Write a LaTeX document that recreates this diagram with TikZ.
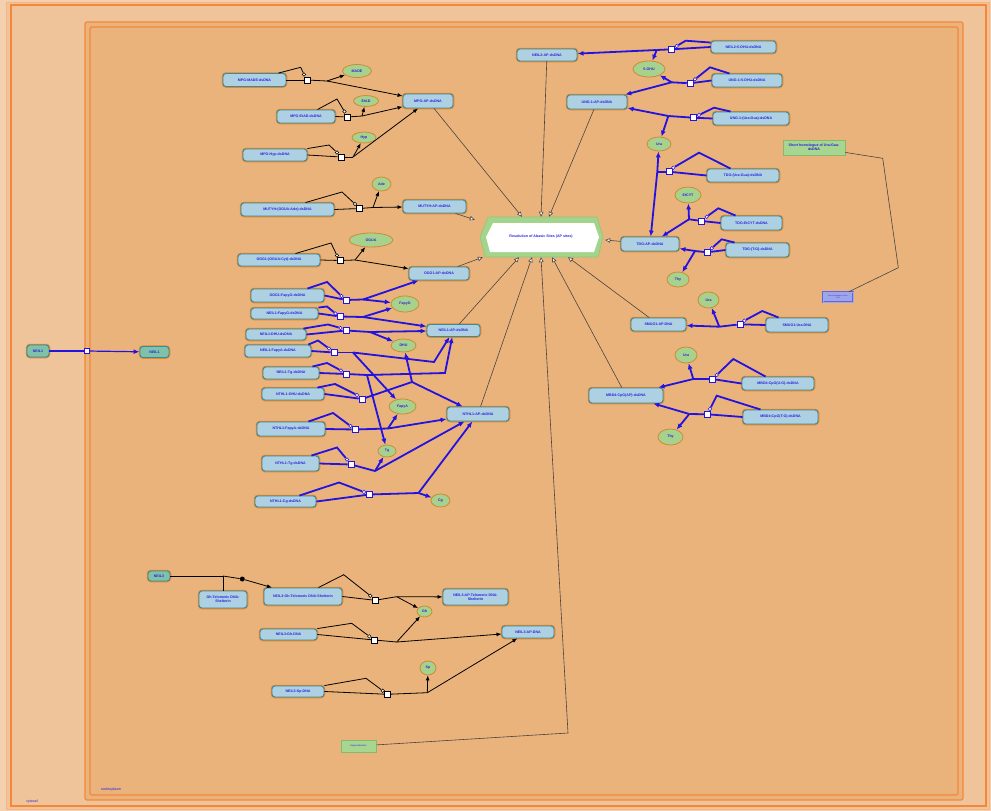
\documentclass[tikz,border=0pt]{standalone}
\usepackage{fontspec}
\setmainfont{Liberation Sans}
\usepackage{tikz}
\usetikzlibrary{arrows.meta,shapes.geometric}
\definecolor{outerbg}{HTML}{F3D0AE}
\definecolor{cyto}{HTML}{EFC49B}
\definecolor{nucl}{HTML}{EAB37C}
\definecolor{cytoedge}{HTML}{F5873A}
\definecolor{cytoedge2}{HTML}{F9B283}
\definecolor{cplxfill}{HTML}{ADD1E3}
\definecolor{cplxline}{HTML}{3B8B9C}
\definecolor{cplxglow}{HTML}{E0882E}
\definecolor{protfill}{HTML}{7FC2A9}
\definecolor{chemfill}{HTML}{A6D28D}
\definecolor{chemline}{HTML}{C98D35}
\definecolor{txtblue}{HTML}{2A1FE0}
\definecolor{rxblue}{HTML}{2412E0}
\definecolor{linkgray}{HTML}{4A4440}
\definecolor{hexgreen}{HTML}{A3D48C}
\definecolor{hexedge}{HTML}{93C47A}
\definecolor{pboxfill}{HTML}{A6D690}
\definecolor{pboxline}{HTML}{86B870}
\definecolor{sboxfill}{HTML}{9DA6EA}
\definecolor{sboxline}{HTML}{6464DC}
\pgfdeclarelayer{bg}
\pgfsetlayers{bg,main}

\begin{document}
\begin{tikzpicture}[x=1pt,y=-1pt,
  font=\fontsize{3.6}{4.2}\selectfont\bfseries,
  every node/.style={text=txtblue, align=center, inner sep=0pt},
  cplx/.style 2 args={draw=cplxline, line width=0.9pt, fill=cplxfill, rounded corners=3pt,
    minimum width=#1, minimum height=#2, preaction={draw=cplxglow, line width=2.5pt}},
  prot/.style 2 args={cplx={#1}{#2}, fill=protfill},
  chem/.style 2 args={ellipse, draw=chemline, line width=0.8pt, fill=chemfill,
    minimum width=#1, minimum height=#2},
  proc/.style={rectangle, draw=black, fill=white, line width=0.6pt, minimum size=6pt},
  bproc/.style={proc, draw=rxblue},
  catc/.style={circle, draw=black, fill=white, line width=0.5pt, minimum size=3.5pt},
  bcat/.style={catc, draw=rxblue},
  rx/.style={draw=black, line width=0.8pt},
  rxa/.style={rx, -{Latex[length=5pt,width=4pt]}},
  brx/.style={draw=rxblue, line width=1.8pt},
  brxa/.style={brx, -{Latex[length=6pt,width=5pt]}},
  link/.style={draw=linkgray, line width=0.6pt, -{Triangle[fill=white,length=5pt,width=4.5pt]}},
  plink/.style={draw=linkgray, line width=0.6pt},
  pbox/.style 2 args={draw=pboxline, fill=pboxfill, line width=0.8pt, minimum width=#1, minimum height=#2}
]
\useasboundingbox (0,0) rectangle (991,811);
\begin{pgfonlayer}{bg}
\fill[outerbg] (0,0) rectangle (991,811);
\draw[cytoedge2, fill=cyto, line width=1pt] (6,2) rectangle (989,809);
\draw[cytoedge, line width=1.2pt] (11,5) rectangle (986,806);
\draw[cytoedge, fill=nucl, line width=1.2pt, rounded corners=2pt] (85,22) rectangle (963,800);
\draw[cytoedge, line width=1.2pt, rounded corners=2pt] (90,27) rectangle (958,795);
\end{pgfonlayer}
\node[font=\fontsize{3.6}{4}\selectfont] (lcyto) at (32,802) {cytosol};
\node[font=\fontsize{3.6}{4}\selectfont] (lnucl) at (111,790) {nucleoplasm};

% resolution of AP sites
\filldraw[fill=hexgreen, draw=hexedge, line width=0.6pt] (488,217) -- (597,217) -- (603,237) -- (598,257) -- (485,257) -- (480,237) -- cycle;
\fill[white] (493,223) -- (594,223) -- (599,237) -- (594,252) -- (490,252) -- (486,237) -- cycle;
\node[minimum width=122, minimum height=40] (res) at (541,237) {Resolution of Abasic Sites (AP sites)};

% complexes
\node[cplx={63}{13}] (mpgMADE) at (254.5,80) {MPG:MADE-dsDNA};
\node[cplx={50}{14}] (mpgAP) at (428,101) {MPG:AP-dsDNA};
\node[cplx={58}{13}] (mpgEtAD) at (306,116.5) {MPG:EtAD-dsDNA};
\node[cplx={64}{12}] (mpgHyp) at (275,155) {MPG:Hyp-dsDNA};
\node[cplx={93}{13}] (mutyhOA) at (287.5,209.5) {MUTYH:(OGUA:Ade)-dsDNA};
\node[cplx={63}{13}] (mutyhAP) at (434.5,206.5) {MUTYH:AP-dsDNA};
\node[cplx={82}{12}] (oggOC) at (279,260) {OGG1:(OGUA:Cyt)-dsDNA};
\node[cplx={60}{13}] (oggAP) at (439,273.5) {OGG1:AP-dsDNA};
\node[cplx={73}{13}] (oggFG) at (287.5,295.5) {OGG1:FapyG-dsDNA};
\node[cplx={67}{11}] (neilFG) at (284.5,313.5) {NEIL1:FapyG-dsDNA};
\node[cplx={60}{11}] (neilDHU) at (276,334.5) {NEIL1:DHU-dsDNA};
\node[cplx={53}{12}] (neilAP) at (453.5,330.5) {NEIL1:AP-dsDNA};
\node[cplx={66}{12}] (neilFA) at (278,351) {NEIL1:FapyA-dsDNA};
\node[cplx={56}{12}] (neilTg) at (291,373) {NEIL1:Tg-dsDNA};
\node[cplx={62}{12}] (nthOHU) at (293,394) {NTHL1:OHU-dsDNA};
\node[cplx={62}{14}] (nthAP) at (478,414) {NTHL1:AP-dsDNA};
\node[cplx={68}{14}] (nthFA) at (291,429) {NTHL1:FapyA-dsDNA};
\node[cplx={57}{15}] (nthTg) at (290.5,463.5) {NTHL1:Tg-dsDNA};
\node[cplx={61}{11}] (nthCg) at (285.5,501.5) {NTHL1:Cg-dsDNA};
\node[cplx={60}{12}] (neil2AP) at (547,55) {NEIL2:AP-dsDNA};
\node[cplx={65}{12}] (neil2OHU) at (743.5,47) {NEIL2:5-OHU-dsDNA};
\node[cplx={70}{13}] (ungOHU) at (747,80.5) {UNG-1:5-OHU-dsDNA};
\node[cplx={60}{14}] (ungAP) at (597,102) {UNG-1:AP-dsDNA};
\node[cplx={76}{13}] (ungUG) at (751,118.5) {UNG-1:(Ura:Gua)-dsDNA};
\node[cplx={72}{13}] (tdgUG) at (743,175.5) {TDG:(Ura:Gua)-dsDNA};
\node[cplx={61}{14}] (tdgEC) at (751.5,223) {TDG:EtCYT-dsDNA};
\node[cplx={58}{14}] (tdgAP) at (650,244) {TDG:AP-dsDNA};
\node[cplx={63}{14}] (tdgTG) at (757.5,250) {TDG:(T:G)-dsDNA};
\node[cplx={55}{13}] (smugAP) at (658.5,324.5) {SMUG1:AP-DNA};
\node[cplx={62}{14}] (smugU) at (797,325) {SMUG1:Ura-DNA};
\node[cplx={72}{13}] (mbdUG) at (778,383.5) {MBD4:CpG(U:G)-dsDNA};
\node[cplx={74}{15}] (mbdAP) at (626,395.5) {MBD4:CpG(AP)-dsDNA};
\node[cplx={75}{14}] (mbdTG) at (780.5,417) {MBD4:CpG(T:G)-dsDNA};
\node[cplx={48}{17}] (ghTel) at (223,599.5) {Gh-Telomeric DNA:\\Shelterin};
\node[cplx={78}{17}] (neil3GhTel) at (303,596.5) {NEIL3:Gh-Telomeric DNA:Shelterin};
\node[cplx={65}{16}] (neil3APTel) at (475.5,597) {NEIL3:AP-Telomeric DNA:\\Shelterin};
\node[cplx={57}{11}] (neil3Gh) at (288.5,634.5) {NEIL3:Gh-DNA};
\node[cplx={52}{12}] (neil3AP) at (528,632) {NEIL3:AP-DNA};
\node[cplx={52}{11}] (neil3Sp) at (298,691.5) {NEIL3:Sp-DNA};
\node[prot={22}{12}] (neil1Cyt) at (38,351) {NEIL1};
\node[prot={29}{11}] (neil1Nuc) at (154.5,352) {NEIL1};
\node[prot={22}{10}] (neil3) at (159,576) {NEIL3};

% small molecules
\node[chem={29}{13}] (made) at (357,71) {MADE};
\node[chem={25}{11}] (etad) at (366,101) {EtAD};
\node[chem={24}{11}] (hyp) at (364,137.5) {Hyp};
\node[chem={19}{14}] (ade) at (381.5,184) {Ade};
\node[chem={44}{14}] (ogua) at (371,240) {OGUA};
\node[chem={28}{16}] (fapyG) at (405,304) {FapyG};
\node[chem={25}{13}] (dhu) at (403.5,345.5) {DHU};
\node[chem={27}{15}] (fapyA) at (402.5,406.5) {FapyA};
\node[chem={18}{12}] (tg) at (387,451) {Tg};
\node[chem={19}{13}] (cg) at (440.5,500.5) {Cg};
\node[chem={32}{16}] (ohu) at (649,69) {5-OHU};
\node[chem={24}{14}] (uraA) at (659,144) {Ura};
\node[chem={26}{16}] (etcyt) at (688,195) {EtCYT};
\node[chem={22}{15}] (thyA) at (678,279.5) {Thy};
\node[chem={21}{16}] (uraB) at (708.5,300) {Ura};
\node[chem={22}{16}] (uraC) at (686,355) {Ura};
\node[chem={25}{16}] (thyB) at (670.5,437) {Thy};
\node[chem={15}{11}] (gh) at (424.5,611.5) {Gh};
\node[chem={16}{14}] (sp) at (428,668) {Sp};

% other boxes
\node[pbox={62}{15}] (shortU) at (814,147.5) {Short homologue of Ura:Gua-\\dsDNA};
\node[pbox={35}{12}, font=\fontsize{2.2}{2.6}\selectfont] (depy) at (358.5,746) {Depyrimidination};
\node[draw=sboxline, fill=sboxfill, double=sboxfill, double distance=0.8pt, minimum width=30, minimum height=10,
  font=\fontsize{1.8}{2.2}\selectfont] (sbox) at (838,297) {Short homologue of Ura:\\Gua};

% NEIL1 transport
\node[bproc, minimum size=5pt] (tNEIL1) at (87,351) {};
\draw[brx, line width=1.2pt] (neil1Cyt) -- (tNEIL1);
\draw[brxa, line width=1.2pt] (tNEIL1) -- (neil1Nuc);

% MPG reactions
\node[proc] (pMADE) at (307,80) {};
\node[catc] (cMADE) at (304,74.5) {};
\draw[rx] (mpgMADE.east) -- (pMADE);
\draw[rx] ([xshift=-8pt]mpgMADE.north east) -- (300.7,67.3) -- (cMADE);
\draw[rx] (pMADE) -- (327,81) coordinate (bMADE);
\draw[rxa] (bMADE) -- (made);
\draw[rxa] (bMADE) -- (mpgAP);

\node[proc] (pEtAD) at (347,117) {};
\node[catc] (cEtAD) at (344.5,111.5) {};
\draw[rx] (mpgEtAD.east) -- (pEtAD);
\draw[rx] ([xshift=-18pt]mpgEtAD.north east) -- (337,99) -- (cEtAD);
\draw[rx] (pEtAD) -- (362,116) coordinate (bEtAD);
\draw[rxa] (bEtAD) -- (etad);
\draw[rxa] (bEtAD) -- (mpgAP);

\node[proc] (pHyp) at (341,157) {};
\node[catc] (cHyp) at (337,152.5) {};
\draw[rx] (mpgHyp.east) -- (pHyp);
\draw[rx] (mpgHyp.north east) -- (329,145) -- (cHyp);
\draw[rx] (pHyp) -- (353,157) coordinate (bHyp);
\draw[rxa] (bHyp) -- (hyp);
\draw[rxa] (bHyp) -- (mpgAP);

% MUTYH, OGG1
\node[proc] (pAde) at (359,208.5) {};
\node[catc] (cAde) at (355,204) {};
\draw[rx] (mutyhOA.east) -- (pAde);
\draw[rx] ([xshift=-29pt]mutyhOA.north east) -- (342,192) -- (cAde);
\draw[rx] (pAde) -- (373,207.5) coordinate (bAde);
\draw[rxa] (bAde) -- (ade);
\draw[rxa] (bAde) -- (mutyhAP);

\node[proc] (pOGUA) at (340,260.5) {};
\node[catc] (cOGUA) at (337,255.5) {};
\draw[rx] (oggOC.east) -- (pOGUA);
\draw[rx] ([xshift=-25pt]oggOC.north east) -- (331,243) -- (cOGUA);
\draw[rx] (pOGUA) -- (355,260) coordinate (bOGUA);
\draw[rxa] (bOGUA) -- (ogua);
\draw[rxa] (bOGUA) -- (oggAP);

\node[bproc] (pFG1) at (346,300) {};
\node[bcat] (cFG1) at (341.5,296) {};
\draw[brx] (oggFG.east) -- (pFG1);
\draw[brx] ([xshift=-17pt]oggFG.north east) -- (327,282) -- (cFG1);
\draw[brx] (pFG1) -- (363,299.5) coordinate (bFG1);
\draw[brxa] (bFG1) -- (oggAP);
\draw[brxa] (bFG1) -- (fapyG);

% NEIL1 reactions
\node[bproc] (pFG2) at (340,316.5) {};
\node[bcat] (cFG2) at (335.5,313.5) {};
\draw[brx] (neilFG.east) -- (pFG2);
\draw[brx] (neilFG.north east) -- (327,306.5) -- (cFG2);
\draw[brx] (pFG2) -- (363,317) coordinate (bFG2);
\draw[brxa] (bFG2) -- (fapyG);
\draw[brxa] (bFG2) -- (neilAP);

\node[bproc] (pDHU) at (346,330.5) {};
\node[bcat] (cDHU) at (340.5,328) {};
\draw[brx] (neilDHU.east) -- (pDHU);
\draw[brx] ([xshift=-3pt]neilDHU.north east) -- (328,324.5) -- (cDHU);
\draw[brx] (pDHU) -- (370,332) coordinate (bDHU);
\draw[brxa] (bDHU) -- (dhu);
\draw[brxa] (bDHU) -- (neilAP);

\node[bproc] (pFA1) at (334,352.5) {};
\node[bcat] (cFA1) at (329,348.5) {};
\draw[brx] (neilFA.east) -- (pFA1);
\draw[brx] ([xshift=-3pt]neilFA.north east) -- (318,340.5) -- (cFA1);
\draw[brx] (pFA1) -- (353,352.5) coordinate (bFA1);
\draw[brxa] (bFA1) -- (fapyA);
\draw[brxa] (bFA1) -- (434,362) -- (neilAP);

\node[bproc] (pTg1) at (346.5,374) {};
\node[bcat] (cTg1) at (341,370.5) {};
\draw[brx] (neilTg.east) -- (pTg1);
\draw[brx] ([xshift=-7pt]neilTg.north east) -- (327,363) -- (cTg1);
\draw[brx] (pTg1) -- (367,375) coordinate (bTg1);
\draw[brxa] (bTg1) -- (tg);
\draw[brxa] (bTg1) -- (445,373) -- (neilAP);

% NTHL1 reactions
\node[bproc] (pOHU) at (362,399) {};
\node[bcat] (cOHU) at (357,395) {};
\draw[brx] (nthOHU.east) -- (pOHU);
\draw[brx] ([xshift=-7pt]nthOHU.north east) -- (335,384) -- (cOHU);
\draw[brx] (pOHU) -- (412,382) coordinate (bOHU);
\draw[brxa] (bOHU) -- (dhu);
\draw[brxa] (bOHU) -- (nthAP);

\node[bproc] (pFA2) at (355,429.5) {};
\node[bcat] (cFA2) at (350.5,426) {};
\draw[brx] (nthFA.east) -- (pFA2);
\draw[brx] ([xshift=-17pt]nthFA.north east) -- (333,413) -- (cFA2);
\draw[brx] (pFA2) -- (388,428.5) coordinate (bFA2);
\draw[brxa] (bFA2) -- (fapyA);
\draw[brxa] (bFA2) -- (nthAP);

\node[bproc] (pTg2) at (351,464.5) {};
\node[bcat] (cTg2) at (347,459.5) {};
\draw[brx] (nthTg.east) -- (pTg2);
\draw[brx] ([xshift=-8pt]nthTg.north east) -- (337,447.5) -- (cTg2);
\draw[brx] (pTg2) -- (375,471) coordinate (bTg2);
\draw[brxa] (bTg2) -- (tg);
\draw[brxa] (bTg2) -- (nthAP);

\node[bproc] (pCg) at (369.5,494.5) {};
\node[bcat] (cCg) at (364,492) {};
\draw[brx] (nthCg.east) -- (pCg);
\draw[brx] ([xshift=-17pt]nthCg.north east) -- (339,482.5) -- (cCg);
\draw[brx] (pCg) -- (418.5,493) coordinate (bCg);
\draw[brxa] (bCg) -- (cg);
\draw[brxa] (bCg) -- (nthAP);

% NEIL2, UNG, TDG
\node[bproc] (pN2) at (671.7,49.3) {};
\node[bcat] (cN2) at (676.7,46) {};
\draw[brx] (neil2OHU.west) -- (pN2);
\draw[brx] ([yshift=-2pt]neil2OHU.north west) -- (685.7,40.7) -- (cN2);
\draw[brx] (pN2) -- (656.7,50) coordinate (bN2);
\draw[brxa] (bN2) -- (neil2AP);
\draw[brxa] (bN2) -- (ohu);

\node[bproc] (pU1) at (690,83.3) {};
\node[bcat] (cU1) at (695,79.3) {};
\draw[brx] (ungOHU.west) -- (pU1);
\draw[brx] ([xshift=18pt]ungOHU.north west) -- (710,67.3) -- (cU1);
\draw[brx] (pU1) -- (671.7,82.3) coordinate (bU1);
\draw[brxa] (bU1) -- (ohu);
\draw[brxa] (bU1) -- (ungAP);

\node[bproc] (pU2) at (693.3,117.7) {};
\node[bcat] (cU2) at (699,115) {};
\draw[brx] (ungUG.west) -- (pU2);
\draw[brx] ([xshift=18pt]ungUG.north west) -- (714,107.7) -- (cU2);
\draw[brx] (pU2) -- (668.3,116) coordinate (bU2);
\draw[brxa] (bU2) -- (ungAP);
\draw[brxa] (bU2) -- (uraA);

\node[bproc] (pT1) at (669,171.7) {};
\node[bcat] (cT1) at (673.3,167.7) {};
\draw[brx] (tdgUG.west) -- (pT1);
\draw[brx] ([xshift=24pt]tdgUG.north west) -- (699,152.7) -- (cT1);
\draw[brx] (pT1) -- (657.3,171.7) coordinate (bT1);
\draw[brxa] (bT1) -- (uraA);
\draw[brxa] (bT1) -- (tdgAP);

\node[bproc] (pT2) at (701.7,221) {};
\node[bcat] (cT2) at (706.7,216.7) {};
\draw[brx] (tdgEC.west) -- (pT2);
\draw[brx] ([xshift=15pt]tdgEC.north west) -- (718.3,208.3) -- (cT2);
\draw[brx] (pT2) -- (689,219.3) coordinate (bT2);
\draw[brxa] (bT2) -- (etcyt);
\draw[brxa] (bT2) -- (tdgAP);

\node[bproc] (pT3) at (707.3,252.3) {};
\node[bcat] (cT3) at (711.7,248.3) {};
\draw[brx] (tdgTG.west) -- (pT3);
\draw[brx] ([xshift=9pt]tdgTG.north west) -- (721.7,239.3) -- (cT3);
\draw[brx] (pT3) -- (695,251) coordinate (bT3);
\draw[brxa] (bT3) -- (tdgAP);
\draw[brxa] (bT3) -- (thyA);

% SMUG1, MBD4
\node[bproc] (pS) at (740,324.3) {};
\node[bcat] (cS) at (744.3,320.7) {};
\draw[brx] (smugU.west) -- (pS);
\draw[brx] ([xshift=13pt]smugU.north west) -- (762.3,311) -- (cS);
\draw[brx] (pS) -- (719.3,326.7) coordinate (bS);
\draw[brxa] (bS) -- (smugAP);
\draw[brxa] (bS) -- (uraB);

\node[bproc] (pM1) at (712.3,379) {};
\node[bcat] (cM1) at (716.7,375) {};
\draw[brx] (mbdUG.west) -- (pM1);
\draw[brx] ([xshift=24pt]mbdUG.north west) -- (733.3,359) -- (cM1);
\draw[brx] (pM1) -- (693.3,379) coordinate (bM1);
\draw[brxa] (bM1) -- (uraC);
\draw[brxa] (bM1) -- (mbdAP);

\node[bproc] (pM2) at (707.7,414.3) {};
\node[bcat] (cM2) at (710,409) {};
\draw[brx] (mbdTG.west) -- (pM2);
\draw[brx] ([xshift=18pt]mbdTG.north west) -- (716.7,395.7) -- (cM2);
\draw[brx] (pM2) -- (689.3,414) coordinate (bM2);
\draw[brxa] (bM2) -- (mbdAP);
\draw[brxa] (bM2) -- (thyB);

% NEIL3
\draw[rx] (neil3) -- (223,576) coordinate (jNEIL3) -- (ghTel);
\node[circle, fill=black, minimum size=5pt] (aNEIL3) at (242.3,579) {};
\draw[rx] (jNEIL3) -- (aNEIL3);
\draw[rxa] (aNEIL3) -- (neil3GhTel);

\node[proc] (pG1) at (375,600.3) {};
\node[catc] (cG1) at (370.3,595.7) {};
\draw[rx] (neil3GhTel.east) -- (pG1);
\draw[rx] ([xshift=-24pt]neil3GhTel.north east) -- (343.7,574.7) -- (cG1);
\draw[rx] (pG1) -- (396.7,596.7) coordinate (bG1);
\draw[rxa] (bG1) -- (neil3APTel);
\draw[rxa] (bG1) -- (gh);

\node[proc] (pG2) at (374.3,640) {};
\node[catc] (cG2) at (369.3,636.3) {};
\draw[rx] (neil3Gh.east) -- (pG2);
\draw[rx] (neil3Gh.north east) -- (351.7,623.3) -- (cG2);
\draw[rx] (pG2) -- (396.7,642) coordinate (bG2);
\draw[rxa] (bG2) -- (gh);
\draw[rxa] (bG2) -- (neil3AP);

\node[proc] (pSp) at (387.3,694.3) {};
\node[catc] (cSp) at (382.7,690.7) {};
\draw[rx] (neil3Sp.east) -- (pSp);
\draw[rx] (neil3Sp.north east) -- (366,678.3) -- (cSp);
\draw[rx] (pSp) -- (427.3,692.7) coordinate (bSp);
\draw[rxa] (bSp) -- (sp);
\draw[rxa] (bSp) -- (neil3AP);

% links to resolution
\draw[link] (mpgAP) -- ([xshift=-19pt]res.north);
\draw[link] (neil2AP) -- (res.north);
\draw[link] (ungAP) -- ([xshift=8pt]res.north);
\draw[link] (mutyhAP) -- ([xshift=-5pt,yshift=-3pt]res.north west);
\draw[link] (oggAP) -- ([xshift=3pt]res.south west);
\draw[link] (neilAP) -- ([xshift=-22pt]res.south);
\draw[link] (nthAP) -- ([xshift=-9pt]res.south);
\draw[link] (depy) -- (568,733) -- (res.south);
\draw[link] (mbdAP) -- ([xshift=11pt]res.south);
\draw[link] (smugAP) -- ([xshift=27pt]res.south);
\draw[link] (tdgAP) -- ([xshift=3pt,yshift=-3pt]res.east);
\draw[plink] (shortU) -- (882.7,158.3) -- (898.3,267.7) -- (sbox);
\end{tikzpicture}
\end{document}
